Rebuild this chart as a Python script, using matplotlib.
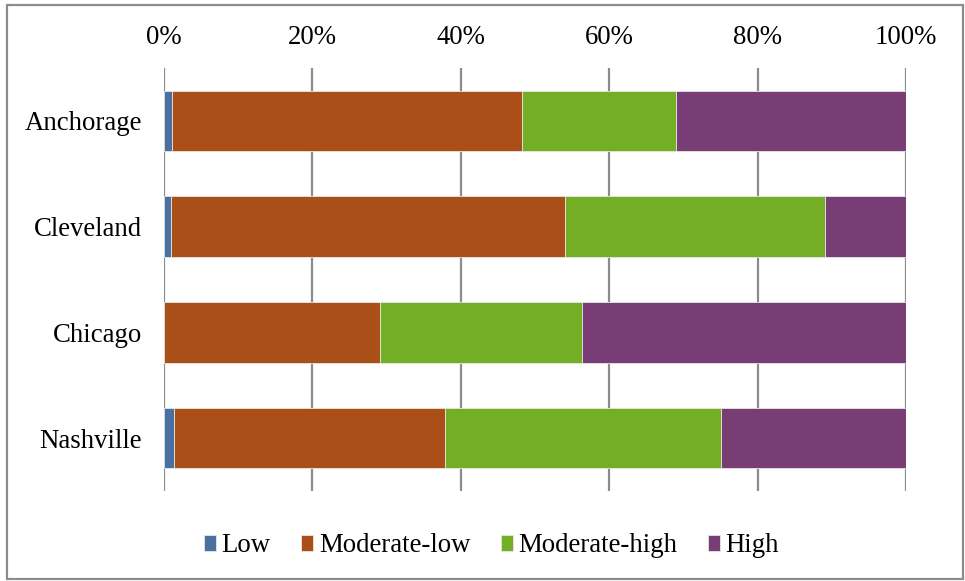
import numpy as np
import matplotlib.pyplot as plt
from matplotlib.patches import Rectangle

# shares per city, in percent
cities = ["Anchorage", "Cleveland", "Chicago", "Nashville"]
levels = ["Low", "Moderate-low", "Moderate-high", "High"]
low = [1.1, 1.0, 0.0, 1.4]
moderate_low = [47.2, 53.0, 29.1, 36.5]
moderate_high = [20.7, 35.1, 27.2, 37.2]
high = [31.0, 10.9, 43.7, 24.9]

colors = ["#4a70a0", "#a94f17", "#73ae24", "#783d75"]
xticks = [0, 20, 40, 60, 80, 100]
fs = 19.3

plt.rcParams["font.family"] = ["Liberation Serif", "DejaVu Serif"]

fig = plt.figure(figsize=(9.65, 5.81), dpi=100)
ax = fig.add_axes([164 / 965, 1 - 491 / 581, (906 - 164) / 965, (491 - 68) / 581])

y = np.arange(len(cities))
left = np.zeros(len(cities))
for name, vals, col in zip(levels, [low, moderate_low, moderate_high, high], colors):
    vals = np.array(vals)
    ax.barh(y, vals, left=left, height=0.57, color=col, label=name,
            edgecolor="#e6e6e6", linewidth=0.6, zorder=3)
    left += vals

ax.set_xlim(0, 100)
ax.set_ylim(len(cities) - 0.5, -0.5)
ax.set_yticks(y)
ax.set_yticklabels(cities, fontsize=fs)
ax.set_xticks(xticks)
ax.set_xticklabels([f"{t}%" for t in xticks], fontsize=fs)
ax.xaxis.tick_top()
ax.tick_params(axis="y", length=0, pad=16)
ax.tick_params(axis="x", length=0, pad=13)

for t in xticks:
    ax.axvline(t, color="#8c8c8c", linewidth=1.6, zorder=1)
for s in ax.spines.values():
    s.set_visible(False)

ax.legend(loc="center", bbox_to_anchor=(491.5 / 965, 1 - 546 / 581), bbox_transform=fig.transFigure,
          ncol=4, frameon=False, fontsize=fs, handlelength=0.45, handleheight=0.55,
          handletextpad=0.2, columnspacing=1.14)

# outer chart border
fig.patches.append(Rectangle((7 / 965, 2 / 581), 956 / 965, 574 / 581,
                             transform=fig.transFigure, fill=False,
                             edgecolor="#8c8c8c", linewidth=1.6))

fig.savefig("out.png", dpi=100)
